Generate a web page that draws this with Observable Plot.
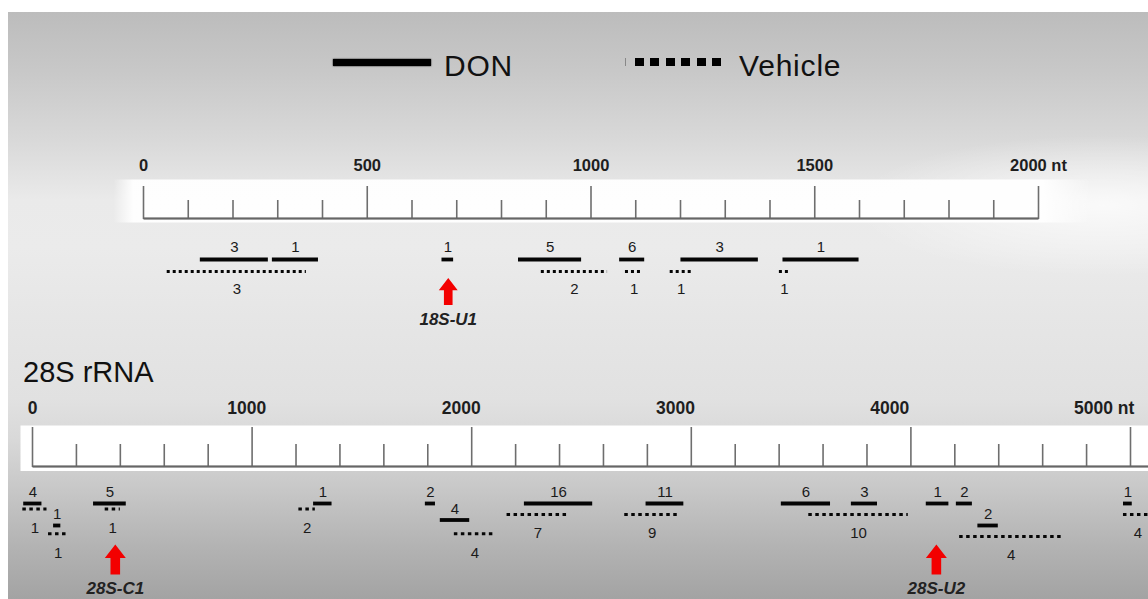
<!DOCTYPE html>
<html>
<head>
<meta charset="utf-8">
<script src="https://cdn.jsdelivr.net/npm/d3@7"></script>
<script src="https://cdn.jsdelivr.net/npm/@observablehq/plot@0.6"></script>
<style>
  html, body { margin: 0; padding: 0; background: #fff; overflow: hidden; }
  #fig { position: relative; width: 1148px; height: 599px; overflow: hidden; background: #fff;
         font-family: "Liberation Sans", Arial, Helvetica, sans-serif; color: #111; }
  #bg { position: absolute; left: 8px; top: 12px; right: 0; bottom: 0;
        background:
          radial-gradient(ellipse 22% 12% at 96% 33%, rgba(255,255,255,0.75), rgba(255,255,255,0) 100%),
          linear-gradient(to bottom, #bcbcbc 0%, #c8c8c8 10%, #d9d9d9 22%, #eaeaea 32%, #ebebeb 40%, #e6e6e6 52%, #e1e1e1 66%, #d8d8d8 73%, #c8c8c8 81%, #b3b3b3 91%, #a3a3a3 100%); }
  .abs { position: absolute; }
  .legtext { position: absolute; font-size: 30px; line-height: 30px; letter-spacing: 0.8px; color: #111; }
  #title28 { position: absolute; left: 23px; top: 358px; font-size: 29px; line-height: 29px; color: #111; }
  #p18 { position: absolute; left: 0; top: 140px; }
  #p28 { position: absolute; left: 0; top: 390px; }
</style>
</head>
<body>
<div id="fig">
  <div id="bg"></div>
  <div id="legend"></div>
  <div id="p18"></div>
  <div id="title28">28S rRNA</div>
  <div id="p28"></div>
</div>
<script>
// ---------------- data ----------------
const groups = ["DON", "Vehicle"];

// 18S rRNA fragments (nt)
const start18 = [127, 288, 53, 667, 838, 889, 1064, 1077, 1177, 1201, 1421, 1429];
const end18   = [279, 391, 364, 693, 979, 1037, 1120, 1116, 1226, 1374, 1444, 1599];
const count18 = [3, 1, 3, 1, 5, 2, 6, 1, 1, 3, 1, 1];
const group18 = ["DON", "DON", "Vehicle", "DON", "DON", "Vehicle", "DON", "Vehicle", "Vehicle", "DON", "Vehicle", "DON"];
const lane18  = [0, 0, 1, 0, 0, 1, 0, 1, 1, 0, 1, 0];

const majorTicks18 = [0, 500, 1000, 1500, 2000];
const minorTicks18 = [100, 200, 300, 400, 600, 700, 800, 900, 1100, 1200, 1300, 1400, 1600, 1700, 1800, 1900];
const tickLabels18 = ["0", "500", "1000", "1500", "2000 nt"];
const sites18 = ["18S-U1"];
const sitePos18 = [681];

// 28S rRNA fragments (nt)
const start28 = [-40, -44, 96, 73, 278, 331, 1213, 1280, 1789, 1857, 1921, 2240, 2161, 2794, 2697, 3410, 3535, 3729, 4070, 4207, 4305, 4222, 4968, 4968];
const end28   = [43, 66, 129, 161, 427, 400, 1288, 1364, 1835, 1991, 2108, 2551, 2442, 2966, 2946, 3634, 3988, 3848, 4173, 4280, 4398, 4692, 5008, 5100];
const count28 = [4, 1, 1, 1, 5, 1, 2, 1, 2, 4, 4, 16, 7, 11, 9, 6, 10, 3, 1, 2, 2, 4, 1, 4];
const group28 = ["DON", "Vehicle", "DON", "Vehicle", "DON", "Vehicle", "Vehicle", "DON", "DON", "DON", "Vehicle", "DON", "Vehicle", "DON", "Vehicle", "DON", "Vehicle", "DON", "DON", "DON", "DON", "Vehicle", "DON", "Vehicle"];
const lane28  = [0, 0.5, 2, 2.75, 0, 0.5, 0.5, 0, 0, 1.5, 2.75, 0, 1, 0, 1, 0, 1, 0, 0, 0, 2, 3, 0, 1];

const majorTicks28 = [0, 1000, 2000, 3000, 4000, 5000];
const minorTicks28 = [200, 400, 600, 800, 1200, 1400, 1600, 1800, 2200, 2400, 2600, 2800, 3200, 3400, 3600, 3800, 4200, 4400, 4600, 4800];
const tickLabels28 = ["0", "1000", "2000", "3000", "4000", "5000 nt"];
const sites28 = ["28S-C1", "28S-U2"];
const sitePos28 = [377, 4116];

// ---------------- helpers ----------------
const table = (s, e, c, g, l) => s.map((v, i) => ({start: v, end: e[i], count: c[i], group: g[i], lane: l[i]}));
const segs18 = table(start18, end18, count18, group18, lane18);
const segs28 = table(start28, end28, count28, group28, lane28);

const blockArrow = {
  draw(ctx, size) {
    const h = Math.sqrt(size / Math.PI);
    const hw = 0.7 * h, sw = 0.32 * h, hb = -0.1 * h;
    ctx.moveTo(0, -h);
    ctx.lineTo(hw, hb);
    ctx.lineTo(sw, hb);
    ctx.lineTo(sw, h);
    ctx.lineTo(-sw, h);
    ctx.lineTo(-sw, hb);
    ctx.lineTo(-hw, hb);
    ctx.closePath();
  }
};

function panel(cfg) {
  const {segs, major, minor, labels, sites, sitePos, domain, height, mTop, mLeft, mRight,
         lane0, pitch, majorLen, minorLen, labelDy, labelSize, labelDrift, dash,
         band, arrowR, arrowDy, siteDy, donDy, vehDy, gradId} = cfg;
  const svg = Plot.plot({
    width: 1148, height,
    marginTop: mTop, marginLeft: mLeft, marginRight: mRight, marginBottom: 0,
    style: {background: "transparent", fontFamily: "'Liberation Sans', Arial, sans-serif", overflow: "visible"},
    x: {domain, axis: null},
    y: {domain: [0, 1], range: [lane0, lane0 + pitch], axis: null},
    marks: [
      // white ruler band
      Plot.frame({fill: `url(#${gradId})`, stroke: null, insetTop: band.top, insetBottom: height - mTop - band.bottom, insetLeft: band.left, insetRight: band.right}),
      // ruler ticks
      Plot.axisX({anchor: "top", ticks: minor, tickSize: minorLen, tickFormat: () => "", stroke: "#6e6e6e", strokeWidth: 1.6}),
      Plot.axisX({anchor: "top", ticks: major, tickSize: majorLen, tickFormat: () => "", stroke: "#6e6e6e", strokeWidth: 1.6}),
      // ruler baseline
      Plot.frame({fill: "#666", stroke: null, insetTop: -1.1, insetBottom: height - mTop - 1.1, insetRight: band.lineRight}),
      // tick labels
      Plot.text(major, {x: d => d * labelDrift, text: (d, i) => labels[i], frameAnchor: "top", lineAnchor: "middle", dy: labelDy,
                        fontSize: labelSize, fontWeight: "bold", fill: "#1e1e1e"}),
      // fragments
      Plot.ruleY(segs, {filter: d => d.group === groups[0], x1: "start", x2: "end", y: "lane", stroke: "#050505", strokeWidth: 3.8}),
      Plot.ruleY(segs, {filter: d => d.group === groups[1], x1: "start", x2: "end", y: "lane", stroke: "#050505", strokeWidth: 3, strokeDasharray: dash}),
      // counts
      Plot.text(segs, {filter: d => d.group === groups[0], x: d => (d.start + d.end) / 2, y: "lane", text: "count", dy: donDy, fontSize: 15, fill: "#1a1a1a"}),
      Plot.text(segs, {filter: d => d.group === groups[1], x: d => (d.start + d.end) / 2, y: "lane", text: "count", dy: vehDy, fontSize: 15, fill: "#1a1a1a"}),
      // modification sites
      Plot.dot(sitePos, {x: d => d, y: 0, symbol: blockArrow, r: arrowR, fill: "#f30000", dy: arrowDy}),
      Plot.text(sitePos, {x: d => d, y: 0, text: (d, i) => sites[i], dy: siteDy, fontSize: 17, fontWeight: "bold", fontStyle: "italic", fill: "#222"})
    ]
  });
  const defs = d3.select(svg).insert("defs", ":first-child");
  const g = defs.append("linearGradient").attr("id", gradId).attr("x1", 0).attr("x2", 1).attr("y1", 0).attr("y2", 0);
  for (const [o, op] of band.stops) g.append("stop").attr("offset", o).attr("stop-color", "#fff").attr("stop-opacity", op);
  return svg;
}

document.getElementById("p18").appendChild(panel({
  segs: segs18, major: majorTicks18, minor: minorTicks18, labels: tickLabels18, sites: sites18, sitePos: sitePos18,
  domain: [0, 2000], height: 200, mTop: 78, mLeft: 143, mRight: 110,
  lane0: 119, pitch: 12, majorLen: 33, minorLen: 19, labelDy: -53, labelSize: 16.5, labelDrift: 1,
  dash: "3 3", arrowR: 13.5, arrowDy: 32, siteDy: 60, donDy: -12, vehDy: 18, gradId: "band18",
  band: {top: -39, bottom: 4, left: -30, right: -52, lineRight: 0,
         stops: [["0%", 0], ["2%", 0.95], ["95%", 0.95], ["100%", 0]]}
}));

document.getElementById("p28").appendChild(panel({
  segs: segs28, major: majorTicks28, minor: minorTicks28, labels: tickLabels28, sites: sites28, sitePos: sitePos28,
  domain: [0, 5000], height: 209, mTop: 76, mLeft: 32, mRight: 18,
  lane0: 113, pitch: 11, majorLen: 40, minorLen: 23, labelDy: -58, labelSize: 17.5, labelDrift: 0.976,
  dash: "3.5 3.5", arrowR: 15, arrowDy: 56, siteDy: 85, donDy: -11, vehDy: 19, gradId: "band28",
  band: {top: -41, bottom: 4.5, left: -12, right: -20, lineRight: -20,
         stops: [["0%", 1], ["100%", 1]]}
}));

// legend
const leg = document.getElementById("legend");
leg.innerHTML = `
  <div class="abs" style="left:333px;top:58.5px;width:98px;height:7px;background:#000;box-shadow:0 0 1.5px #000;"></div>
  <div class="legtext" style="left:444px;top:50.5px;">${groups[0]}</div>
  <div class="abs" style="left:624.5px;top:58px;width:1.5px;height:8px;background:#888;"></div>
  <div class="abs" style="left:635px;top:58px;width:86px;height:8px;background:repeating-linear-gradient(to right,#000 0 9px,transparent 9px 15.4px);"></div>
  <div class="legtext" style="left:739px;top:50.5px;">${groups[1]}</div>`;
</script>
</body>
</html>
